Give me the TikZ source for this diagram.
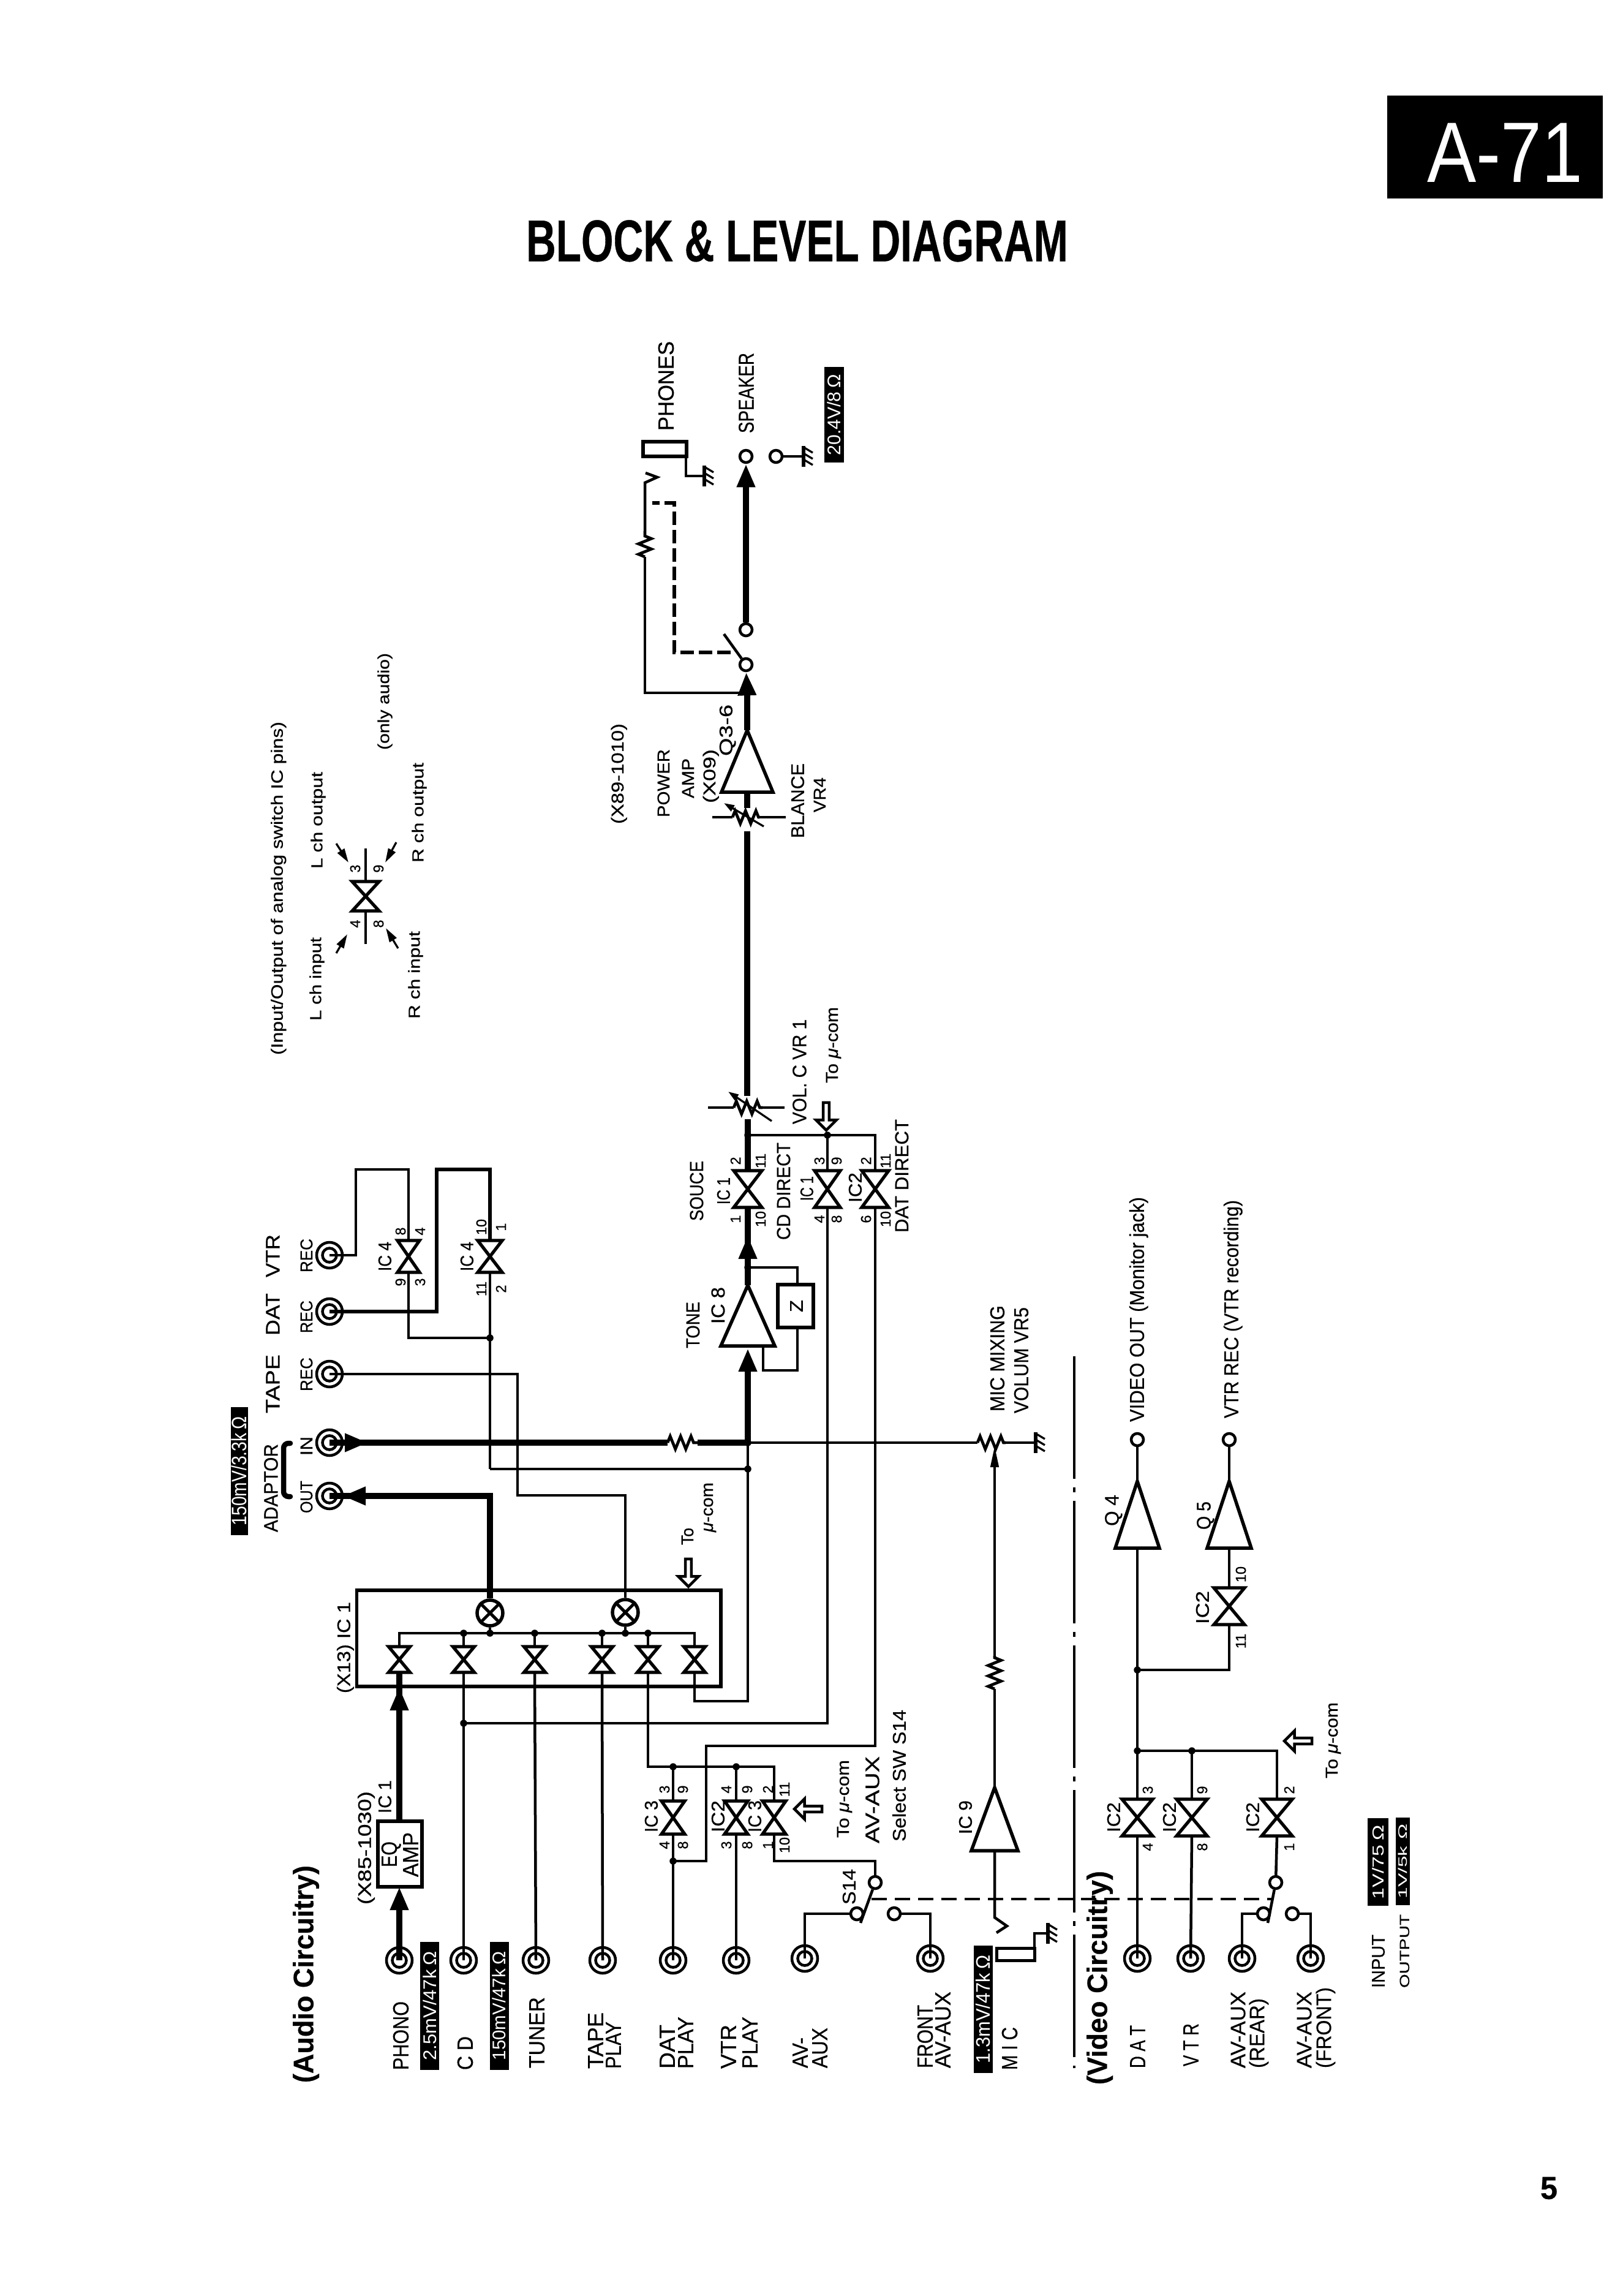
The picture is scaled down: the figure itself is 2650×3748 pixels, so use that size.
\documentclass[tikz,border=0pt]{standalone}
\usepackage{fontspec}
\setmainfont{Liberation Sans}[FakeBold=0.5]
\newfontfamily\plainf{Liberation Sans}
\usepackage{graphicx}
\usetikzlibrary{arrows.meta,shapes.arrows,decorations.pathmorphing}
\newcount\labc
\tikzset{
  thinw/.style={line width=.65pt},
  midw/.style={line width=.9pt},
  thickw/.style={line width=1.9pt},
  bow/.style={line width=1.05pt,line join=miter},
  ampw/.style={line width=1.1pt,line join=miter},
  lab/.style={rotate=90,inner sep=0pt,anchor=center},
  hlab/.style={inner sep=0pt,anchor=center},
  jackin/.style={circle,draw,line width=.9pt,inner sep=0pt,minimum size=4.6pt},
  contact/.style={circle,draw,line width=.9pt,fill=white,inner sep=0pt,minimum size=4pt},
  mixer/.style={circle,draw,line width=1.1pt,inner sep=0pt,minimum size=8.4pt},
  res/.style={line width=.95pt,decorate,decoration={zigzag,segment length=3.4pt,amplitude=2.1pt}},
  hollow/.style={single arrow,draw,line width=.9pt,inner sep=0pt,minimum height=9pt,minimum width=6.6pt,single arrow head extend=1.1pt},
  bighead/.tip={Triangle[length=7.6pt,width=5.6pt]},
  smallhead/.tip={Triangle[length=3.4pt,width=2.2pt]},
  midhead/.tip={Triangle[length=4.6pt,width=2.6pt]},
  lowdash/.style={line width=.85pt,dash pattern=on 5pt off 2.6pt},
  phdash/.style={line width=1.2pt,dash pattern=on 4.4pt off 1.6pt},
  seamline/.style={line width=.8pt,dash pattern=on 40pt off 2.8pt on 1.6pt off 2.8pt},
}
% rotated label, fitted to its measured extent: [font cmds]{x}{y1}{y2}{size px}{text}
\newcommand{\lab}[6][]{%
  \global\advance\labc by 1
  \pgfmathsetlengthmacro\labL{(#4-#3)*0.2pt}%
  \pgfmathsetlengthmacro\labH{#5*0.2pt*0.716}%
  \pgfmathsetlengthmacro\labF{#5*0.2pt}%
  \node[lab,text height=\labH,text depth=0pt] (L\the\labc) at (#2,{(#3+#4)/2})
    {\resizebox{\labL}{\height}{\fontsize{\labF}{\labF}\selectfont#1#6}};}
% horizontal label: [font]{x1}{x2}{yc}{size}{text}
\newcommand{\hlabel}[6][]{%
  \global\advance\labc by 1
  \pgfmathsetlengthmacro\labL{(#3-#2)*0.2pt}%
  \pgfmathsetlengthmacro\labH{#5*0.2pt*0.716}%
  \pgfmathsetlengthmacro\labF{#5*0.2pt}%
  \node[hlab,text height=\labH,text depth=0pt] (L\the\labc) at ({(#2+#3)/2},#4)
    {\resizebox{\labL}{\height}{\fontsize{\labF}{\labF}\selectfont#1#6}};}
% pin number {x}{y}{text}
\newcommand{\pinno}[3]{%
  \global\advance\labc by 1
  \node[lab] (L\the\labc) at (#1,#2)
    {\fontsize{4.7pt}{4.7pt}\selectfont #3};}
% black level box {x1}{x2}{y1}{y2}{size}{text}
\newcommand{\blk}[6]{%
  \global\advance\labc by 1
  \pgfmathsetlengthmacro\labL{(#4-#3)*0.2pt}%
  \pgfmathsetlengthmacro\labT{(#4-#3)*0.17pt}%
  \pgfmathsetlengthmacro\labW{(#2-#1)*0.2pt}%
  \pgfmathsetlengthmacro\labF{#5*0.2pt}%
  \node[rotate=90,fill=black,text=white,inner sep=0pt,minimum width=\labL,minimum height=\labW] (L\the\labc)
    at ({(#1+#2)/2},{(#3+#4)/2}) {\resizebox{\labT}{\height}{\plainf\fontsize{\labF}{\labF}\selectfont #6}};}
% drawn box {name}{x1}{x2}{y1}{y2}{line width}
\newcommand{\boxn}[6]{%
  \pgfmathsetlengthmacro\labW{(#3-#2)*0.2pt}%
  \pgfmathsetlengthmacro\labH{(#5-#4)*0.2pt}%
  \node[draw,line width=#6,inner sep=0pt,minimum width=\labW,minimum height=\labH] (#1)
    at ({(#2+#3)/2},{(#4+#5)/2}) {};}
% analog switch {name}{x}{y}{hw}{hh}
\newcommand{\swt}[5]{%
  \coordinate (#1) at (#2,#3);
  \coordinate (#1-t) at (#2,{#3-#5});
  \coordinate (#1-b) at (#2,{#3+#5});
  \draw[bow] ({#2-#4},{#3-#5}) -- ({#2+#4},{#3-#5}) -- ({#2-#4},{#3+#5}) -- ({#2+#4},{#3+#5}) -- cycle;}
\newcommand{\jack}[3]{\node[jackin] (#1) at (#2,#3) {};\draw[midw] (#1.center) circle[radius=4.2pt];}
% amplifier {name}{xc}{apex y}{base y}{hw}
\newcommand{\ampl}[5]{%
  \coordinate (#1-o) at (#2,#3);
  \coordinate (#1-i) at (#2,#4);
  \draw[ampw] (#2,#3) -- ({#2+#5},#4) -- ({#2-#5},#4) -- cycle;}
% ground {name}{x}{y}
\newcommand{\gnd}[3]{%
  \coordinate (#1) at (#2,#3);
  \draw[line width=1.1pt] (#2,{#3-17}) -- (#2,{#3+17});
  \foreach \d in {-15,-5,5}{\draw[thinw] (#2,{#3+\d}) -- ++(15,9);}}
\newcommand{\jdot}[1]{\fill (#1) circle[radius=1.15pt];}
\newcommand{\mixcross}[1]{\draw[line width=1pt] (#1.45) -- (#1.225) (#1.135) -- (#1.315);}

\begin{document}
\begin{tikzpicture}[x=0.2pt,y=-0.2pt]
\path[fill=white,use as bounding box] (0,0) rectangle (2650,3748);

% ---------- page furniture
\node[fill=black,inner sep=0pt,minimum width=70.4pt,minimum height=33.6pt] (badge) at (2441,240) {};
\hlabel[\plainf\color{white}]{2330}{2584}{247}{140}{A-71}
\hlabel[\bfseries]{859}{1744}{392}{96}{BLOCK \& LEVEL DIAGRAM}
\hlabel[\bfseries]{2515}{2543}{3571}{52}{5}

% ---------- legend
\lab{452}{1178}{1722}{27}{(Input/Output of analog switch IC pins)}
\lab{517}{1260}{1418}{26}{L ch output}
\lab{515}{1530}{1666}{26}{L ch input}
\lab{626}{1066}{1224}{26}{(only audio)}
\lab{682}{1245}{1408}{26}{R ch output}
\lab{676}{1520}{1663}{26}{R ch input}
\swt{leg}{597}{1463}{22}{24}
\coordinate (legU) at (597,1385);
\coordinate (legD) at (597,1541);
\draw[midw] (legU) -- (leg-t) (leg-b) -- (legD);
\pinno{580}{1418}{3}\pinno{618}{1418}{9}\pinno{580}{1508}{4}\pinno{618}{1508}{8}
\coordinate (la1) at (549,1377);\coordinate (la1h) at (569,1408);
\coordinate (la2) at (647,1375);\coordinate (la2h) at (629,1408);
\coordinate (la3) at (549,1556);\coordinate (la3h) at (567,1525);
\coordinate (la4) at (650,1548);\coordinate (la4h) at (630,1515);
\draw[thinw,-midhead] (la1) -- (la1h);
\draw[thinw,-midhead] (la2) -- (la2h);
\draw[thinw,-midhead] (la3) -- (la3h);
\draw[thinw,-midhead] (la4) -- (la4h);

% ---------- jacks and their labels, audio
\jack{phono}{652}{3200}\jack{cd}{757}{3200}\jack{tuner}{875}{3200}\jack{tapep}{984}{3200}
\jack{datp}{1099}{3200}\jack{vtrp}{1202}{3200}\jack{avaux}{1314}{3197}\jack{frontav}{1519}{3197}
\jack{vtrrec}{538}{2049}\jack{datrec}{538}{2141}\jack{taperec}{538}{2243}\jack{adin}{538}{2355}\jack{adout}{538}{2442}
\lab[\bfseries]{495}{3045}{3400}{46}{(Audio Circuitry)}
\lab{654}{3267}{3379}{36}{PHONO}
\blk{686}{717}{3170}{3379}{30}{2.5mV/47k$\,$Ω}
\lab{759}{3324}{3379}{36}{C D}
\blk{799.5}{830.5}{3170}{3379}{30}{150mV/47k$\,$Ω}
\lab{876}{3260}{3376}{36}{TUNER}
\lab{972}{3285}{3377}{36}{TAPE}
\lab{1001}{3300}{3377}{36}{PLAY}
\lab{1089}{3305}{3377}{36}{DAT}
\lab{1119}{3292}{3377}{36}{PLAY}
\lab{1189}{3305}{3377}{36}{VTR}
\lab{1224}{3292}{3377}{36}{PLAY}
\lab{1306}{3326}{3376}{36}{AV-}
\lab{1338}{3310}{3376}{36}{AUX}
\lab{1510}{3273}{3376}{36}{FRONT}
\lab{1539}{3251}{3376}{36}{AV-AUX}
\blk{1590}{1621}{3176}{3384}{32}{1.3mV/47k$\,$Ω}
\lab{1648}{3309}{3379}{36}{M I C}

% rec / adaptor labels
\blk{377}{404.5}{2297}{2506}{34}{150mV/3.3k$\,$Ω}
\lab{445}{2015}{2085}{32}{VTR}
\lab{445}{2111}{2180}{32}{DAT}
\lab{445}{2211}{2307}{32}{TAPE}
\lab{442}{2357}{2501}{32}{ADAPTOR}
\lab{500}{2022}{2077}{28}{REC}
\lab{500}{2123}{2176}{28}{REC}
\lab{500}{2216}{2271}{28}{REC}
\lab{500}{2345}{2376}{28}{IN}
\lab{500}{2417}{2470}{28}{OUT}
\coordinate (br1) at (474,2356);\coordinate (br2) at (474,2443);
\coordinate (br1c) at (463,2356);\coordinate (br2c) at (463,2443);
\draw[line width=1.7pt,line cap=round,rounded corners=1.6pt] (br1) -- (br1c) -- (br2c) -- (br2);

% ---------- phono EQ and IC1 box
\boxn{eqbox}{617}{689}{2973}{3080}{1.1pt}
\lab{635}{3006}{3048}{36}{EQ}
\lab{670}{2991}{3064}{36}{AMP}
\lab{595}{2924}{3109}{30}{(X85-1030)}
\lab{628}{2906}{2960}{30}{IC 1}
\lab{561}{2615}{2764}{30}{(X13) IC 1}
\boxn{icbox}{582.5}{1177}{2596}{2753}{1.15pt}
\swt{sa}{652}{2709}{17.5}{21}
\swt{sb}{757}{2709}{17.5}{21}
\swt{sc}{873}{2709}{17.5}{21}
\swt{sd}{983}{2709}{17.5}{21}
\swt{se}{1058}{2709}{17.5}{21}
\swt{sf}{1134}{2709}{17.5}{21}
\node[mixer] (mxa) at (800,2633) {};\mixcross{mxa}
\node[mixer] (mxb) at (1021,2632) {};\mixcross{mxb}
\coordinate (busa) at (652,2666);\coordinate (busf) at (1134,2666);
\coordinate (busb) at (757,2666);\coordinate (busc) at (873,2666);\coordinate (busd) at (983,2666);\coordinate (buse) at (1058,2666);
\coordinate (busm) at (800,2666);\coordinate (busn) at (1021,2666);
\draw[midw] (sa-t) -- (busa) -- (busf) -- (sf-t);
\draw[midw] (sb-t) -- (busb) (sc-t) -- (busc) (sd-t) -- (busd) (se-t) -- (buse);
\draw[midw] (mxa) -- (busm) (mxb) -- (busn);
\foreach \p in {busb,busc,busd,buse,busm,busn}{\jdot{\p}}

% phono path
\coordinate (ph1b) at (652,3118);\coordinate (ph2b) at (652,2796);\coordinate (ph2t) at (652,2754);
\coordinate (eqtop) at (652,2973);\coordinate (eqbot) at (652,3080);
\draw[thickw] (phono.center) -- (ph1b);
\draw[thickw,-bighead] (ph1b) -- (eqbot);
\draw[thickw] (eqtop) -- (sa-b);
\draw[thickw,-bighead] (ph2b) -- (ph2t);

% direct inputs
\draw[midw] (cd.center) -- (sb-b);
\draw[midw] (tuner.center) -- (sc-b);
\draw[midw] (tapep.center) -- (sd-b);

% out of IC1 to adaptor
\coordinate (outc) at (800,2442);\coordinate (outb) at (597,2442);\coordinate (outt) at (559,2442);
\draw[thickw] (mxa) -- (outc) -- (adout.center);
\draw[thickw,-bighead] (outb) -- (outt);
\coordinate (inb) at (565,2355);\coordinate (int) at (601,2355);
\coordinate (ra) at (1090,2355);\coordinate (rb) at (1139,2355);\coordinate (jn) at (1221,2355);
\draw[thickw] (adin.center) -- (ra);
\draw[thickw,-bighead] (inb) -- (int);
\draw[res] (ra) -- (rb);
\draw[thickw] (rb) -- (jn);
\jdot{jn}

% second mixer to tape rec
\coordinate (tr1) at (1021,2441);\coordinate (tr2) at (845,2441);\coordinate (tr3) at (845,2243);
\draw[thinw] (mxb) -- (tr1) -- (tr2) -- (tr3) -- (taperec.center);

% rec routing
\swt{icfa}{667}{2051}{18}{26}
\swt{icfb}{800}{2051}{20}{26}
\coordinate (vr1) at (581,2049);\coordinate (vr2) at (581,1909);\coordinate (vr3) at (667,1909);
\draw[midw] (vtrrec.center) -- (vr1) -- (vr2) -- (vr3) -- (icfa-t);
\coordinate (dr1) at (713,2141);\coordinate (dr2) at (713,1909);\coordinate (dr3) at (800,1909);
\draw[line width=1.1pt] (datrec.center) -- (dr1) -- (dr2) -- (dr3) -- (icfb-t);
\coordinate (rd1) at (667,2184);\coordinate (rd) at (800,2184);\coordinate (rd2) at (800,2398);\coordinate (rd3) at (1221,2398);
\draw[midw] (icfa-b) -- (rd1) -- (rd);
\draw[midw] (icfb-b) -- (rd);
\draw[midw] (rd) -- (rd2);
\draw[thinw] (rd2) -- (rd3);
\jdot{rd}\jdot{rd3}
\lab{628}{2027}{2075}{30}{IC 4}
\pinno{654}{2010}{8}\pinno{686}{2010}{4}\pinno{654}{2093}{9}\pinno{686}{2093}{3}
\lab{762}{2027}{2075}{30}{IC 4}
\pinno{786}{2003}{10}\pinno{818}{2003}{1}\pinno{786}{2104}{11}\pinno{818}{2104}{2}

% IC1 last switch back to junction
\coordinate (sfl) at (1134,2777);\coordinate (sfr) at (1221,2777);
\draw[midw] (sf-b) -- (sfl) -- (sfr) -- (jn);

% To mu-com at IC1
\node[hollow,rotate=-90] (harr1) at (1124,2565) {};
\lab{1122}{2494}{2522}{28}{To}
\lab{1154}{2420}{2501}{28}{\textit{μ}-com}

% ---------- main line: tone
\ampl{tone}{1221}{2098}{2197}{44}
\boxn{zbox}{1270}{1328}{2097}{2167}{1.1pt}
\lab{1300}{2122}{2142}{30}{Z}
\coordinate (tonet) at (1221,2201);\coordinate (toneb) at (1221,2240);
\draw[thickw] (jn) -- (toneb);
\draw[thickw,-bighead] (toneb) -- (tonet);
\coordinate (zb1) at (1302,2167);\coordinate (zb2) at (1302,2237);\coordinate (zb3) at (1246,2237);\coordinate (zb4) at (1246,2197);
\draw[midw] (zb1) -- (zb2) -- (zb3) -- (zb4);
\coordinate (zt1) at (1302,2097);\coordinate (zt2) at (1302,2069);\coordinate (zt3) at (1221,2069);
\draw[midw] (zt1) -- (zt2) -- (zt3);
\jdot{zt3}
\swt{src}{1221}{1941}{23}{30}
\swt{cdd}{1351}{1941}{21}{30}
\swt{datd}{1429}{1941}{22}{30}
\coordinate (tonea) at (1221,2046);\coordinate (toneh) at (1221,2017);
\draw[thickw] (tone-o) -- (src-b);
\draw[thickw,-bighead] (tonea) -- (toneh);
\coordinate (jt) at (1221,1853);\coordinate (jt2) at (1351,1853);\coordinate (jt3) at (1429,1853);
\draw[thickw] (src-t) -- (jt);
\coordinate (jtv) at (1221,1827);
\draw[thickw] (jt) -- (jtv);
\draw[midw] (jt) -- (jt3) -- (datd-t);
\draw[thinw] (cdd-t) -- (jt2);
\jdot{jt}\jdot{jt2}
\lab{1137}{1895}{1993}{31}{SOUCE}
\lab{1181}{1922}{1966}{30}{IC 1}
\pinno{1201}{1895}{2}\pinno{1242}{1895}{11}\pinno{1201}{1990}{1}\pinno{1242}{1990}{10}
\lab{1279}{1865}{2024}{31}{CD DIRECT}
\lab{1317}{1920}{1960}{30}{IC 1}
\pinno{1338}{1895}{3}\pinno{1366}{1895}{9}\pinno{1338}{1990}{4}\pinno{1366}{1990}{8}
\lab{1396}{1914}{1963}{30}{IC2}
\pinno{1414}{1895}{2}\pinno{1446}{1895}{11}\pinno{1414}{1990}{6}\pinno{1446}{1990}{10}
\lab{1472}{1827}{2012}{31}{DAT DIRECT}
\lab{1131}{2125}{2201}{31}{TONE}
\lab{1172}{2101}{2161}{31}{IC 8}
\node[hollow,rotate=-90] (harr2) at (1349,1820) {};
\lab{1305}{1664}{1835}{32}{VOL. C  VR 1}
\lab{1358}{1644}{1768}{28}{To  \textit{μ}-com}

% VR1
\coordinate (v1a) at (1156,1808);\coordinate (v1b) at (1198,1808);\coordinate (v1c) at (1245,1808);\coordinate (v1d) at (1281,1808);
\draw[midw] (v1a) -- (v1b) (v1c) -- (v1d);
\draw[res] (v1b) -- (v1c);
\coordinate (v1s) at (1260,1830);\coordinate (v1e) at (1189,1782);
\draw[thinw,-smallhead] (v1s) -- (v1e);
% main to power amp
\coordinate (mn1) at (1220,1789);\coordinate (mn2) at (1220,1357);
\draw[thickw] (mn1) -- (mn2);
\coordinate (v4a) at (1163,1334);\coordinate (v4b) at (1196,1334);\coordinate (v4c) at (1240,1334);\coordinate (v4d) at (1283,1334);
\draw[midw] (v4a) -- (v4b) (v4c) -- (v4d);
\draw[res] (v4b) -- (v4c);
\coordinate (v4s) at (1247,1349);\coordinate (v4e) at (1182,1311);
\draw[thinw,-smallhead] (v4s) -- (v4e);
\ampl{pwr}{1220}{1192}{1293}{42}
\coordinate (pwrs) at (1220,1319);
\draw[thickw] (pwr-i) -- (pwrs);
\node[contact] (cin) at (1218,1085) {};
\node[contact] (clo) at (1218,1028) {};
\node[contact] (spk) at (1218,745) {};
\node[contact] (spg) at (1267,745) {};
\coordinate (pha) at (1220,1131);\coordinate (phaa) at (1220,1140);
\draw[thickw] (pwr-o) -- (pha);
\draw[thickw,-bighead] (phaa) -- (cin);
\coordinate (fb1) at (1053,1131);\coordinate (fb2) at (1053,909);\coordinate (fb3) at (1053,867);\coordinate (fb4) at (1053,788);
\coordinate (chv) at (1073,779);\coordinate (chw) at (1054,772);
\draw[midw] (pha) -- (fb1) -- (fb2);
\draw[res] (fb2) -- (fb3);
\draw[midw,line join=miter] (fb3) -- (fb4) -- (chv) -- (chw);
\coordinate (lev) at (1182,1035);
\draw[midw] (cin) -- (lev);
\coordinate (pd1) at (1193,1065);\coordinate (pd2) at (1101,1065);\coordinate (pd3) at (1101,821);\coordinate (pd4) at (1065,821);
\draw[phdash] (pd1) -- (pd2) -- (pd3) -- (pd4);
\boxn{phrect}{1050}{1121}{721}{745}{1.1pt}
\coordinate (phg1) at (1120,745);\coordinate (phg2) at (1120,777);
\gnd{gph}{1150}{777}
\draw[midw] (phg1) -- (phg2) -- (gph);
\draw[thickw,-bighead] (clo) -- (spk);
\gnd{gsp}{1312}{745}
\draw[midw] (spg) -- (gsp);
\lab{1087}{557}{703}{36}{PHONES}
\lab{1218}{576}{707}{35}{SPEAKER}
\blk{1346}{1378}{599}{755}{30}{20.4V/8$\,$Ω}
\lab{1008}{1181}{1345}{28}{(X89-1010)}
\lab{1083}{1223}{1334}{28}{POWER}
\lab{1123}{1238}{1303}{28}{AMP}
\lab{1158}{1223}{1311}{28}{(X09)}
\lab{1185}{1150}{1234}{30}{Q3-6}
\lab{1302}{1246}{1368}{30}{BLANCE}
\lab{1338}{1269}{1326}{28}{VR4}

% ---------- IC3/IC2/IC3 input selector
\swt{iya}{1099}{2967}{19}{27}
\swt{iyb}{1202}{2967}{19}{27}
\swt{iyc}{1264}{2967}{19}{27}
\coordinate (yb0) at (1058,2884);\coordinate (yba) at (1099,2884);\coordinate (ybb) at (1202,2884);\coordinate (ybc) at (1264,2884);
\draw[midw] (se-b) -- (yb0) -- (ybc) -- (iyc-t);
\draw[midw] (iya-t) -- (yba) (iyb-t) -- (ybb);
\jdot{yba}\jdot{ybb}
\coordinate (ydot) at (1099,3038);\coordinate (ybr) at (1153,3038);\coordinate (ybt) at (1153,2850);\coordinate (ydd) at (1429,2850);
\draw[midw] (datp.center) -- (iya-b);
\draw[midw] (vtrp.center) -- (iyb-b);
\jdot{ydot}
\draw[thinw] (ydot) -- (ybr) -- (ybt) -- (ydd) -- (datd-b);
\draw[thinw] (datd-t) -- (jt3);
\lab{1063}{2939}{2991}{30}{IC 3}
\lab{1172}{2939}{2991}{30}{IC2}
\lab{1232}{2939}{2991}{30}{IC 3}
\pinno{1085}{2921}{3}\pinno{1115}{2921}{9}\pinno{1085}{3012}{4}\pinno{1115}{3012}{8}
\pinno{1186}{2921}{4}\pinno{1220}{2921}{9}\pinno{1186}{3012}{3}\pinno{1220}{3012}{8}
\pinno{1254}{2921}{2}\pinno{1281}{2921}{11}\pinno{1254}{3012}{1}\pinno{1281}{3012}{10}
% CD direct
\coordinate (cdj) at (757,2813);\coordinate (cdk) at (1351,2813);
\jdot{cdj}
\draw[thinw] (cdj) -- (cdk) -- (cdd-b);
% S14
\node[contact] (sta) at (1429,3073) {};
\node[contact] (stb) at (1399,3124) {};
\node[contact] (stc) at (1460,3124) {};
\coordinate (st1) at (1264,3038);\coordinate (st2) at (1429,3038);
\draw[midw] (iyc-b) -- (st1) -- (st2) -- (sta);
\coordinate (stl) at (1405,3139);
\draw[midw] (sta) -- (stl);
\coordinate (aa1) at (1314,3124);\coordinate (ff1) at (1519,3124);
\draw[midw] (avaux.center) -- (aa1) -- (stb);
\draw[midw] (frontav.center) -- (ff1) -- (stc);
\lab{1386}{3051}{3109}{30}{S14}
\node[hollow,rotate=180] (harr3) at (1322,2953) {};
\lab{1376}{2873}{3000}{28}{To  \textit{μ}-com}
\lab{1424}{2867}{3009}{32}{AV-AUX}
\lab{1468}{2791}{3006}{30}{Select SW S14}

% ---------- mic
\coordinate (vr5a) at (1596,2355);\coordinate (vr5b) at (1642,2355);
\draw[thinw] (jn) -- (vr5a);
\draw[res] (vr5a) -- (vr5b);
\gnd{gvr}{1691}{2355}
\draw[midw] (vr5b) -- (gvr);
\ampl{icn}{1624}{2918}{3021}{38}
\coordinate (mra) at (1624,2757);\coordinate (mrb) at (1624,2703);\coordinate (wipb) at (1624,2395);\coordinate (wipt) at (1624,2360);
\draw[midw] (icn-o) -- (mra);
\draw[res] (mra) -- (mrb);
\draw[midw] (mrb) -- (wipb);
\draw[midw,-{Triangle[length=7pt,width=2.6pt]}] (wipb) -- (wipt);
\coordinate (mc1) at (1624,3130);\coordinate (mc2) at (1644,3144);\coordinate (mc3) at (1627,3155);
\draw[midw,line join=miter] (icn-i) -- (mc1) -- (mc2) -- (mc3);
\boxn{micrect}{1627}{1689}{3180}{3200}{1pt}
\coordinate (mg1) at (1689,3180);\coordinate (mg2) at (1689,3156);
\gnd{gmc}{1711}{3156}
\draw[midw] (mg1) -- (mg2) -- (gmc);
\lab{1576}{2939}{2994}{30}{IC 9}
\lab{1628}{2131}{2304}{33}{MIC MIXING}
\lab{1667}{2134}{2307}{33}{VOLUM VR5}

% separator
\coordinate (sepa) at (1754,2214);\coordinate (sepb) at (1754,3376);
\draw[seamline] (sepa) -- (sepb);

% ---------- video
\jack{vdat}{1857}{3197}\jack{vvtr}{1944}{3197}\jack{vrear}{2028}{3197}\jack{vfront}{2140}{3197}
\lab[\bfseries]{1791}{3054}{3403}{46}{(Video Circuitry)}
\lab{1857}{3306}{3376}{36}{D A T}
\lab{1944}{3303}{3373}{36}{V T R}
\lab{2021}{3251}{3376}{34}{AV-AUX}
\lab{2052}{3262}{3376}{34}{(REAR)}
\lab{2129}{3251}{3376}{34}{AV-AUX}
\lab{2161}{3244}{3376}{34}{(FRONT)}
\swt{vsa}{1857}{2967}{25}{30}
\swt{vsb}{1946}{2967}{25}{30}
\swt{vsc}{2085}{2967}{25}{30}
\coordinate (vba) at (1857,2858);\coordinate (vbb) at (1946,2858);\coordinate (vbc) at (2085,2858);
\draw[midw] (vdat.center) -- (vsa-b);
\draw[midw] (vvtr.center) -- (vsb-b);
\draw[midw] (vsa-t) -- (vba) -- (vbc) -- (vsc-t);
\draw[midw] (vsb-t) -- (vbb);
\jdot{vba}\jdot{vbb}
\ampl{qfour}{1857}{2418}{2527}{36}
\ampl{qfive}{2007}{2418}{2527}{36}
\draw[midw] (vba) -- (qfour-i);
\coordinate (vj) at (1857,2726);\jdot{vj}
\swt{vsd}{2007}{2622}{25}{30}
\coordinate (vk) at (2007,2726);
\draw[midw] (vj) -- (vk) -- (vsd-b);
\draw[midw] (vsd-t) -- (qfive-i);
\node[contact] (vo1) at (1857,2350) {};
\node[contact] (vo2) at (2007,2350) {};
\draw[thinw] (qfour-o) -- (vo1);
\draw[thinw] (qfive-o) -- (vo2);
\node[contact] (vca) at (2083,3073) {};
\node[contact] (vcb) at (2063,3124) {};
\node[contact] (vcc) at (2110,3124) {};
\draw[midw] (vsc-b) -- (vca);
\coordinate (vcl) at (2070,3139);
\draw[midw] (vca) -- (vcl);
\coordinate (vr1a) at (2028,3124);\coordinate (vf1a) at (2140,3124);
\draw[midw] (vrear.center) -- (vr1a) -- (vcb);
\draw[midw] (vfront.center) -- (vf1a) -- (vcc);
\coordinate (dsa) at (1423,3100);\coordinate (dsb) at (2076,3100);
\draw[lowdash] (dsa) -- (dsb);
\lab{1818}{2942}{2991}{30}{IC2}
\lab{1909}{2942}{2991}{30}{IC2}
\lab{2045}{2942}{2991}{30}{IC2}
\pinno{1874}{2922}{3}\pinno{1874}{3015}{4}\pinno{1963}{2922}{9}\pinno{1963}{3015}{8}\pinno{2105}{2922}{2}\pinno{2105}{3015}{1}
\lab{1963}{2597}{2651}{30}{IC2}
\pinno{2026}{2570}{10}\pinno{2026}{2679}{11}
\lab{1815}{2440}{2491}{32}{Q 4}
\lab{1965}{2451}{2497}{32}{Q 5}
\lab{1856}{1954}{2321}{33}{VIDEO OUT (Monitor jack)}
\lab{2010}{1959}{2315}{33}{VTR REC (VTR recording)}
\node[hollow,rotate=180] (harr4) at (2122,2842) {};
\lab{2174}{2779}{2903}{28}{To  \textit{μ}-com}
% level key
\lab{2250}{3158}{3245}{30}{INPUT}
\lab{2293}{3125}{3245}{22}{OUTPUT}
\blk{2233}{2267}{2968}{3111}{26}{1V/75$\,$Ω}
\blk{2279}{2302}{2967}{3110}{20}{1V/5k$\,$Ω}
\end{tikzpicture}
\end{document}
